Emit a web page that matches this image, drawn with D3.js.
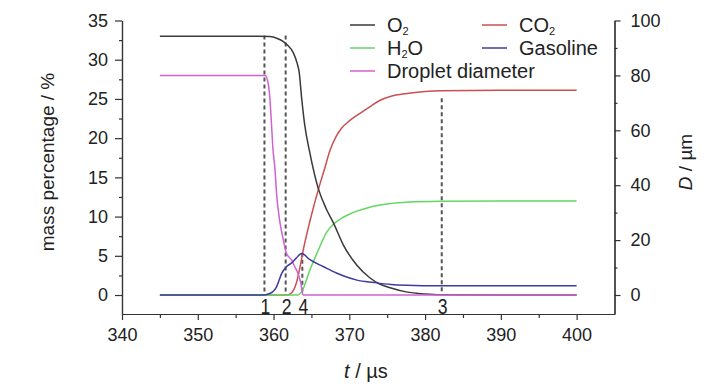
<!DOCTYPE html>
<html>
<head>
<meta charset="utf-8">
<script src="https://cdn.jsdelivr.net/npm/d3@7"></script>
<style>
  body { margin: 0; background: #fff; }
  svg { display: block; font-family: 'Liberation Sans', Arial, sans-serif; }
</style>
</head>
<body>
<div id="chart"></div>
<script>
// [t (µs), mass percentage]
const o2Values = [
  [345, 33], [358, 33], [359.5, 32.95], [360.5, 32.7], [361.3, 32.3], [361.9, 31.8],
  [362.6, 30.9], [363.1, 29.6], [363.4, 28.3], [363.7, 25.2], [364.1, 21.8], [364.8, 18.1],
  [365.9, 13.6], [367, 10.9], [367.9, 9.2], [369.2, 6.4], [371, 3.8], [372.7, 2.2],
  [374, 1.4], [375.5, 0.9], [377.5, 0.4], [380, 0.12], [382, 0.02], [390, 0], [400, 0]
];
const co2Values = [
  [345, 0], [361.8, 0], [362.4, 0.3], [363, 1.5], [363.5, 3.6], [364, 6.1], [364.8, 9.4],
  [365.9, 13.4], [366.8, 16.3], [367.4, 18.3], [368.3, 20.3], [369, 21.3], [370, 22.2],
  [371, 22.9], [372.7, 24], [374, 24.8], [375.4, 25.3], [377.6, 25.7], [380, 25.95],
  [382, 26.05], [390, 26.1], [400, 26.1]
];
const h2oValues = [
  [345, 0], [363.2, 0], [363.7, 0.4], [364.8, 3.2], [365.9, 5.7], [367, 8], [368, 9.1],
  [369, 9.8], [370, 10.3], [371, 10.7], [372.7, 11.2], [375, 11.6], [378, 11.85],
  [382, 11.95], [390, 12], [400, 12]
];
const gasolineValues = [
  [345, 0], [358.5, 0], [359.5, 0.2], [360.4, 1.05], [361.1, 2.8], [361.7, 3.6],
  [362.4, 4.1], [363, 4.7], [363.7, 5.3], [364.8, 4.5], [366.6, 3.6], [368.3, 2.8],
  [371, 1.9], [373.2, 1.6], [375.5, 1.35], [377.6, 1.25], [382, 1.18], [390, 1.17], [400, 1.17]
];
// [t (µs), droplet diameter (µm)]
const dropletValues = [
  [345, 80], [358.9, 80], [359.3, 77], [359.5, 72.2], [359.7, 63.7], [359.9, 54],
  [360.2, 45.5], [360.4, 37], [360.8, 27.3], [361.3, 20], [361.7, 15.2], [362.4, 12.7],
  [362.8, 10.3], [363.3, 7.3], [363.6, 4.3], [363.9, 0], [380, 0], [400, 0]
];

// stage markers: time and top of dashed line (mass percentage)
const markerLabels = ['1', '2', '4', '3'];
const markerTimes = [358.8, 361.6, 363.8, 382.2];
const markerTops = [33.1, 33.1, 5.4, 25.1];

const xTicks = [340, 350, 360, 370, 380, 390, 400];
const yLeftTicks = [0, 5, 10, 15, 20, 25, 30, 35];
const yRightTicks = [0, 20, 40, 60, 80, 100];

const series = [
  { name: 'O2', sub: ['O', '2', ''], values: o2Values, color: '#3a3a3a', axis: 'left', z: 2 },
  { name: 'CO2', sub: ['CO', '2', ''], values: co2Values, color: '#c9504f', axis: 'left', z: 0 },
  { name: 'H2O', sub: ['H', '2', 'O'], values: h2oValues, color: '#62d862', axis: 'left', z: 1 },
  { name: 'Gasoline', sub: ['Gasoline', '', ''], values: gasolineValues, color: '#3c3ca0', axis: 'left', z: 4 },
  { name: 'Droplet diameter', sub: ['Droplet diameter', '', ''], values: dropletValues, color: '#d062d2', axis: 'right', z: 3 },
];

const width = 728;
const height = 390;
const axisColor = '#333';

const x = d3.scaleLinear([340, 405], [122, 614.5]);
const yLeft = d3.scaleLinear([-2.42, 35], [314, 20.5]);
const yRight = d3.scaleLinear([-6.92, 100], [314, 20.5]);

const svg = d3.select('#chart').append('svg')
  .attr('width', width)
  .attr('height', height);

svg.append('rect').attr('width', width).attr('height', height).attr('fill', '#fff');

// axes
function styleAxis(g, size) {
  g.attr('font-family', null).attr('font-size', size);
  g.selectAll('path, line').attr('stroke', axisColor).attr('stroke-width', 1.2);
  g.selectAll('text').attr('fill', '#222');
}

svg.append('g')
  .attr('transform', `translate(0,${yLeft.range()[0]})`)
  .call(d3.axisBottom(x).tickValues(d3.range(345, 405, 10)).tickSize(4).tickSizeOuter(0).tickFormat(''))
  .call(g => styleAxis(g, 18));
svg.append('g')
  .attr('transform', `translate(0,${yLeft.range()[0]})`)
  .call(d3.axisBottom(x).tickValues(xTicks).tickSize(6).tickPadding(8).tickSizeOuter(0))
  .call(g => styleAxis(g, 18));

svg.append('g')
  .attr('transform', `translate(${x.range()[0]},0)`)
  .call(d3.axisLeft(yLeft).tickValues(d3.range(2.5, 35, 5)).tickSize(3).tickSizeOuter(0).tickFormat(''))
  .call(g => styleAxis(g, 18));
svg.append('g')
  .attr('transform', `translate(${x.range()[0]},0)`)
  .call(d3.axisLeft(yLeft).tickValues(yLeftTicks).tickSize(7).tickPadding(7).tickSizeOuter(0))
  .call(g => styleAxis(g, 18));

svg.append('g')
  .attr('transform', `translate(${x.range()[1]},0)`)
  .call(d3.axisRight(yRight).tickValues(d3.range(10, 100, 20)).tickSize(3).tickSizeOuter(0).tickFormat(''))
  .call(g => styleAxis(g, 18));
svg.append('g')
  .attr('transform', `translate(${x.range()[1]},0)`)
  .call(d3.axisRight(yRight).tickValues(yRightTicks).tickSize(6).tickPadding(10).tickSizeOuter(0))
  .call(g => styleAxis(g, 18));

// axis titles
svg.append('text')
  .attr('transform', 'translate(54,162) rotate(-90)')
  .attr('text-anchor', 'middle')
  .attr('font-size', 19)
  .attr('fill', '#222')
  .text('mass percentage / %');

const rightTitle = svg.append('text')
  .attr('transform', 'translate(692,162) rotate(-90)')
  .attr('text-anchor', 'middle')
  .attr('font-size', 19)
  .attr('fill', '#222');
rightTitle.append('tspan').attr('font-style', 'italic').text('D');
rightTitle.append('tspan').text(' / µm');

const xTitle = svg.append('text')
  .attr('x', 366)
  .attr('y', 378)
  .attr('text-anchor', 'middle')
  .attr('font-size', 20)
  .attr('fill', '#222');
xTitle.append('tspan').attr('font-style', 'italic').text('t');
xTitle.append('tspan').text(' / µs');

// stage marker lines
const markers = markerTimes.map((t, i) => ({ t, top: markerTops[i], label: markerLabels[i] }));

svg.append('g').selectAll('line')
  .data(markers)
  .join('line')
  .attr('x1', d => x(d.t))
  .attr('x2', d => x(d.t))
  .attr('y1', d => yLeft(d.top))
  .attr('y2', yLeft(0))
  .attr('stroke', '#555')
  .attr('stroke-width', 2)
  .attr('stroke-dasharray', '4,3');

// curves, drawn in the reference's stacking order
const line = d3.line().curve(d3.curveMonotoneX);

svg.append('g').selectAll('path')
  .data(series.slice().sort((a, b) => a.z - b.z))
  .join('path')
  .attr('fill', 'none')
  .attr('stroke', d => d.color)
  .attr('stroke-width', 1.5)
  .attr('d', d => {
    const y = d.axis === 'left' ? yLeft : yRight;
    return line.x(p => x(p[0])).y(p => y(p[1]))(d.values);
  });

// condensed digits under the marker lines
svg.append('g').selectAll('text')
  .data(markers)
  .join('text')
  .attr('transform', d => `translate(${x(d.t) + 1},314) scale(0.8,1)`)
  .attr('text-anchor', 'middle')
  .attr('font-size', 22)
  .attr('fill', '#222')
  .text(d => d.label);

// legend
const legendPos = [[350, 25], [482, 25], [350, 48], [482, 48], [350, 71]];
const legend = svg.append('g').selectAll('g')
  .data(series)
  .join('g')
  .attr('transform', (d, i) => `translate(${legendPos[i][0]},${legendPos[i][1]})`);

legend.append('line')
  .attr('x2', 25)
  .attr('stroke', d => d.color)
  .attr('stroke-width', 1.5);

const legendText = legend.append('text')
  .attr('x', 37)
  .attr('y', 7)
  .attr('font-size', 20)
  .attr('fill', '#222');
legendText.append('tspan').text(d => d.sub[0]);
legendText.append('tspan').attr('font-size', 11).attr('dy', 3).text(d => d.sub[1]);
legendText.append('tspan').attr('dy', d => d.sub[2] ? -3 : 0).text(d => d.sub[2]);
</script>
</body>
</html>
